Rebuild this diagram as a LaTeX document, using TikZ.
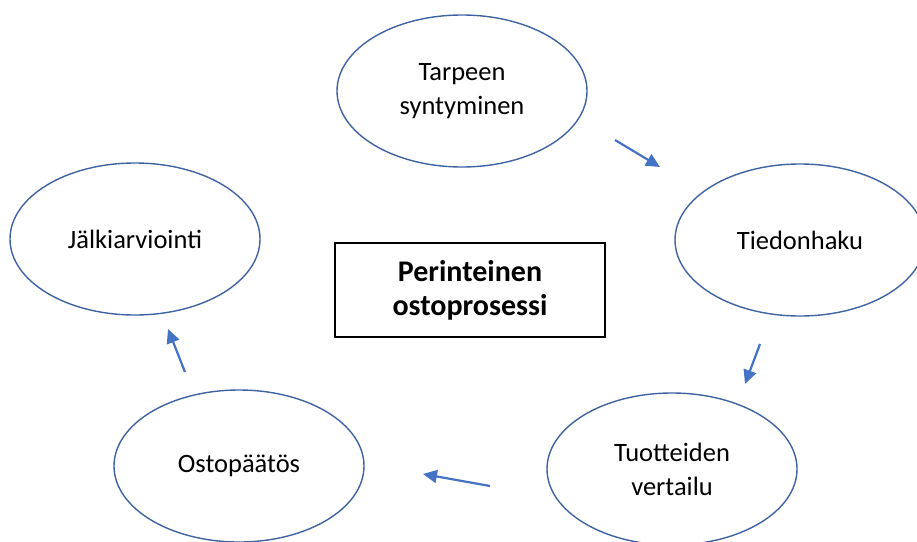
\documentclass[tikz,border=0pt]{standalone}
\usepackage{fontspec}
\setmainfont{Carlito}
\usetikzlibrary{shapes.geometric,arrows.meta}
\definecolor{ringblue}{HTML}{3F62A3}
\definecolor{arrowblue}{HTML}{4472C4}
\begin{document}
\begin{tikzpicture}[x=1pt,y=-1pt,
  stage/.style={ellipse,draw=ringblue,line width=1.4pt,minimum width=250pt,minimum height=152pt,
    inner sep=0pt,align=center,font=\fontsize{26.5}{34}\selectfont},
  titlebox/.style={draw=black,line width=1.6pt,minimum width=270pt,minimum height=94pt,
    align=center,font=\fontsize{30}{34}\selectfont\bfseries},
  flow/.style={draw=arrowblue,line width=2.2pt,-{Triangle[length=14pt,width=13pt]}}]
\useasboundingbox (0,0) rectangle (917,541);

% process stages
\node[stage] (need) at (462,91) {Tarpeen\\syntyminen};
\node[stage] (search) at (800,240) {Tiedonhaku};
\node[stage] (compare) at (672,469) {Tuotteiden\\vertailu};
\node[stage] (decide) at (239,466) {Ostopäätös};
\node[stage] (review) at (135,239) {Jälkiarviointi};

% title in the middle
\node[titlebox] (title) at (470,290) {Perinteinen\\ostoprosessi};

% free-standing arrows between the stages
\coordinate (a1s) at (615,140); \coordinate (a1e) at (660,167);
\coordinate (a2s) at (760,344); \coordinate (a2e) at (745,384);
\coordinate (a3s) at (490,486); \coordinate (a3e) at (423,474);
\coordinate (a4s) at (185,372); \coordinate (a4e) at (168,329);
\draw[flow] (a1s) -- (a1e);
\draw[flow] (a2s) -- (a2e);
\draw[flow] (a3s) -- (a3e);
\draw[flow] (a4s) -- (a4e);
\end{tikzpicture}
\end{document}
